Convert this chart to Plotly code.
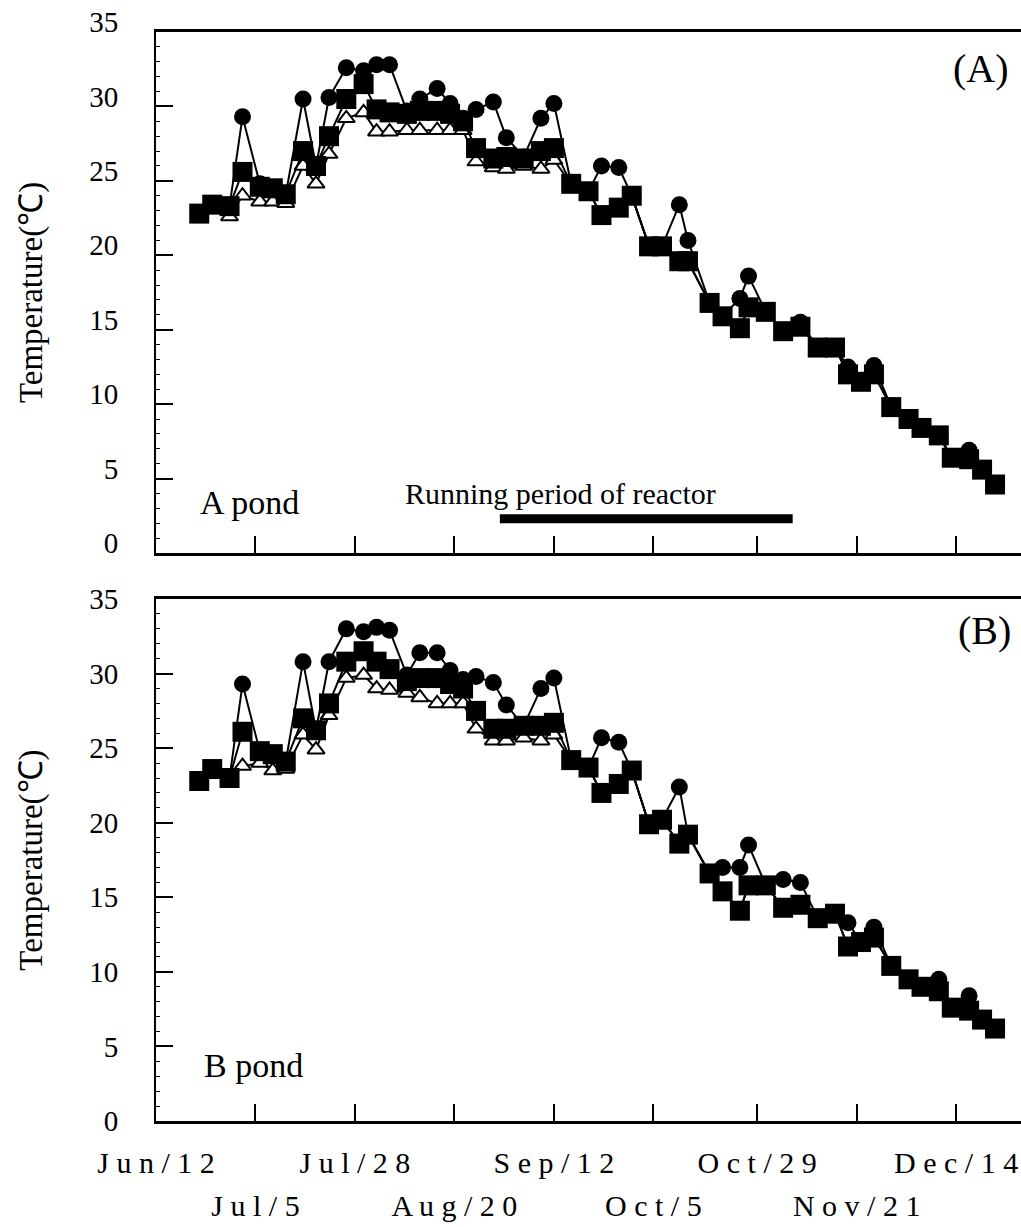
import plotly.graph_objects as go

# ---------------- data ----------------
DATES = [
    "2007-06-22", "2007-06-25", "2007-06-29", "2007-07-02", "2007-07-06", "2007-07-09",
    "2007-07-12", "2007-07-16", "2007-07-19", "2007-07-22", "2007-07-26", "2007-07-30",
    "2007-08-02", "2007-08-05", "2007-08-09", "2007-08-12", "2007-08-16", "2007-08-19",
    "2007-08-22", "2007-08-25", "2007-08-29", "2007-09-01", "2007-09-05", "2007-09-09",
    "2007-09-12", "2007-09-16", "2007-09-20", "2007-09-23", "2007-09-27", "2007-09-30",
    "2007-10-04", "2007-10-07", "2007-10-11", "2007-10-13", "2007-10-18", "2007-10-21",
    "2007-10-25", "2007-10-27", "2007-10-31", "2007-11-04", "2007-11-08", "2007-11-12",
    "2007-11-16", "2007-11-19", "2007-11-22", "2007-11-25", "2007-11-29", "2007-12-03",
    "2007-12-06", "2007-12-10", "2007-12-13", "2007-12-17", "2007-12-20", "2007-12-23",
]

A_CIRCLE = [22.8, 23.4, 23.3, 29.3, 24.8, 24.5, 24.1, 30.5, 26.0, 30.6,
            32.6, 32.4, 32.8, 32.8, 29.7, 30.5, 31.2, 30.2, 29.2, 29.8,
            30.3, 27.9, 26.6, 29.2, 30.2, 24.8, 24.3, 26.0, 25.9, 24.0,
            20.6, 20.6, 23.4, 21.0, 16.8, 15.9, 17.1, 18.6, 16.2, 14.9,
            15.5, 13.8, 13.8, 12.5, 11.5, 12.6, 9.8, 9.0, 8.4, 7.9,
            6.4, 6.9, 5.6, 4.6]
A_SQUARE = [22.8, 23.4, 23.3, 25.6, 24.6, 24.5, 24.1, 27.0, 26.0, 28.0,
            30.5, 31.5, 29.8, 29.6, 29.5, 29.7, 29.7, 29.5, 29.0, 27.2,
            26.5, 26.6, 26.5, 27.0, 27.2, 24.8, 24.3, 22.7, 23.2, 24.0,
            20.6, 20.6, 19.6, 19.6, 16.8, 15.9, 15.1, 16.5, 16.2, 14.9,
            15.2, 13.8, 13.8, 12.0, 11.5, 12.0, 9.8, 9.0, 8.4, 7.9,
            6.4, 6.3, 5.6, 4.6]
A_TRIANGLE = [22.7, 23.3, 22.6, 24.0, 23.6, 23.6, 23.5, 26.0, 24.8, 26.8,
              29.2, 29.6, 28.3, 28.3, 28.4, 28.4, 28.4, 28.4, 28.4, 26.3,
              25.9, 25.8, 26.0, 25.8, 26.4, 24.8, 24.3, 22.7, 23.2, 24.0,
              20.6, 20.6, 19.6, 19.6, 16.8, 15.9, 15.1, 16.5, 16.2, 14.9,
              15.2, 13.8, 13.8, 12.0, 11.5, 12.0, 9.8, 9.0, 8.4, 7.9,
              6.4, 6.3, 5.6, 4.6]

B_CIRCLE = [22.8, 23.6, 23.0, 29.3, 24.8, 24.6, 24.1, 30.8, 26.2, 30.8,
            33.0, 32.8, 33.1, 32.9, 29.9, 31.4, 31.4, 30.2, 29.6, 29.8,
            29.4, 27.9, 26.5, 29.0, 29.7, 24.2, 23.7, 25.7, 25.4, 23.5,
            19.9, 20.2, 22.4, 19.2, 16.6, 17.0, 17.0, 18.5, 15.8, 16.2,
            16.0, 13.6, 13.9, 13.3, 12.0, 13.0, 10.4, 9.5, 9.0, 9.5,
            7.6, 8.4, 6.8, 6.2]
B_SQUARE = [22.8, 23.6, 23.0, 26.1, 24.8, 24.6, 24.1, 27.0, 26.2, 28.0,
            30.8, 31.5, 30.8, 30.3, 29.5, 29.7, 29.7, 29.3, 29.0, 27.5,
            26.3, 26.3, 26.5, 26.5, 26.7, 24.2, 23.7, 22.0, 22.6, 23.5,
            19.9, 20.2, 18.6, 19.2, 16.6, 15.4, 14.1, 15.8, 15.8, 14.3,
            14.5, 13.6, 13.9, 11.7, 12.0, 12.3, 10.4, 9.5, 9.0, 8.7,
            7.6, 7.4, 6.8, 6.2]
B_TRIANGLE = [22.8, 23.4, 23.0, 23.8, 24.0, 23.5, 23.6, 25.9, 24.9, 27.2,
              29.7, 29.9, 29.0, 28.9, 28.7, 28.4, 28.0, 28.0, 28.0, 26.3,
              25.5, 25.5, 25.7, 25.5, 25.9, 24.2, 23.7, 22.0, 22.6, 23.5,
              19.9, 20.2, 18.6, 19.2, 16.6, 15.4, 14.1, 15.8, 15.8, 14.3,
              14.5, 13.6, 13.9, 11.7, 12.0, 12.3, 10.4, 9.5, 9.0, 8.7,
              7.6, 7.4, 6.8, 6.2]

TICK_DATES = ["2007-06-12", "2007-07-05", "2007-07-28", "2007-08-20", "2007-09-12",
              "2007-10-05", "2007-10-29", "2007-11-21", "2007-12-14"]
TICK_ROW1 = ["J u n / 1 2", "", "J u l / 2 8", "", "S e p / 1 2", "", "O c t / 2 9", "", "D e c / 1 4"]
TICK_ROW2 = ["", "J u l / 5", "", "A u g / 2 0", "", "O c t / 5", "", "N o v / 2 1", ""]
X_RANGE = ["2007-06-12", "2007-12-29"]
Y_TICKS = [0, 5, 10, 15, 20, 25, 30, 35]

RUN_START = "2007-08-30 12:00"
RUN_END = "2007-11-06 05:00"
RUN_LEVEL = 2.3

FONT = "Liberation Serif"

fig = go.Figure()


def add_panel(xa, ya, circ, sq, tri):
    fig.add_trace(go.Scatter(
        x=DATES, y=tri, xaxis=xa, yaxis=ya, mode="lines+markers",
        line=dict(color="black", width=2),
        marker=dict(symbol="triangle-up", size=15, color="white",
                    line=dict(color="black", width=2))))
    fig.add_trace(go.Scatter(
        x=DATES, y=sq, xaxis=xa, yaxis=ya, mode="lines+markers",
        line=dict(color="black", width=2),
        marker=dict(symbol="square", size=20, color="black")))
    fig.add_trace(go.Scatter(
        x=DATES, y=circ, xaxis=xa, yaxis=ya, mode="lines+markers",
        line=dict(color="black", width=2),
        marker=dict(symbol="circle", size=17, color="black")))


add_panel("x", "y", A_CIRCLE, A_SQUARE, A_TRIANGLE)
add_panel("x2", "y2", B_CIRCLE, B_SQUARE, B_TRIANGLE)

xcommon = dict(type="date", range=X_RANGE, tickvals=TICK_DATES, ticks="inside",
               ticklen=17, tickwidth=2, tickcolor="black", showline=True,
               linewidth=3, linecolor="black", mirror=True, showgrid=False,
               zeroline=False)
ycommon = dict(range=[0, 35], tickvals=Y_TICKS, ticks="inside", ticklen=17,
               tickwidth=2, tickcolor="black", showline=True, linewidth=2,
               linecolor="black", showgrid=False, zeroline=False,
               minor=dict(dtick=1, tick0=0, ticks="inside", ticklen=4,
                          tickwidth=1, tickcolor="black"),
               tickfont=dict(family=FONT, size=29, color="black"),
               ticklabelstandoff=30,
               title=dict(text="Temperature(℃)",
                          font=dict(family=FONT, size=33, color="black"),
                          standoff=37))

fig.update_layout(
    width=1021, height=1227,
    margin=dict(l=156, r=0, t=32, b=106),
    plot_bgcolor="white", paper_bgcolor="white",
    showlegend=False,
    xaxis=dict(xcommon, anchor="y", domain=[0, 1], showticklabels=False),
    xaxis2=dict(xcommon, anchor="y2", domain=[0, 1], showticklabels=True,
                ticktext=TICK_ROW1,
                tickfont=dict(family=FONT, size=30, color="black"),
                ticklabelstandoff=13),
    xaxis3=dict(type="date", range=X_RANGE, overlaying="x2", anchor="y2",
                side="bottom", tickvals=TICK_DATES, ticktext=TICK_ROW2,
                ticks="", showline=False, showgrid=False, zeroline=False,
                tickfont=dict(family=FONT, size=30, color="black"),
                ticklabelstandoff=64),
    yaxis=dict(ycommon, anchor="x", domain=[0.5216, 1.0], ticklabelshift=-10),
    yaxis2=dict(ycommon, anchor="x2", domain=[0.0, 0.4793]),
)

# invisible trace so the second label row (xaxis3) renders
fig.add_trace(go.Scatter(x=[X_RANGE[0]], y=[None], xaxis="x3", yaxis="y2",
                         mode="markers", showlegend=False, hoverinfo="skip"))

fig.add_shape(type="line", xref="x", yref="y", x0=RUN_START, x1=RUN_END,
              y0=RUN_LEVEL, y1=RUN_LEVEL, line=dict(color="black", width=9))

fig.add_annotation(text="Running period of reactor", x="2007-09-13 10:00", y=4.0,
                   xref="x", yref="y", showarrow=False, yanchor="middle",
                   font=dict(family=FONT, size=30, color="black"))
fig.add_annotation(text="A pond", x="2007-06-21 17:00", y=3.4, xref="x", yref="y",
                   xanchor="left", yanchor="middle", showarrow=False,
                   font=dict(family=FONT, size=34, color="black"))
fig.add_annotation(text="B pond", x="2007-06-22 14:00", y=3.7, xref="x2", yref="y2",
                   xanchor="left", yanchor="middle", showarrow=False,
                   font=dict(family=FONT, size=34, color="black"))
fig.add_annotation(text="(A)", x=1, y=0.929, xref="x domain", yref="y domain",
                   xanchor="right", yanchor="middle", xshift=-10, showarrow=False,
                   font=dict(family=FONT, size=40, color="black"))
fig.add_annotation(text="(B)", x=1, y=0.939, xref="x2 domain", yref="y2 domain",
                   xanchor="right", yanchor="middle", xshift=-8, showarrow=False,
                   font=dict(family=FONT, size=40, color="black"))

fig.write_html("out.html")
